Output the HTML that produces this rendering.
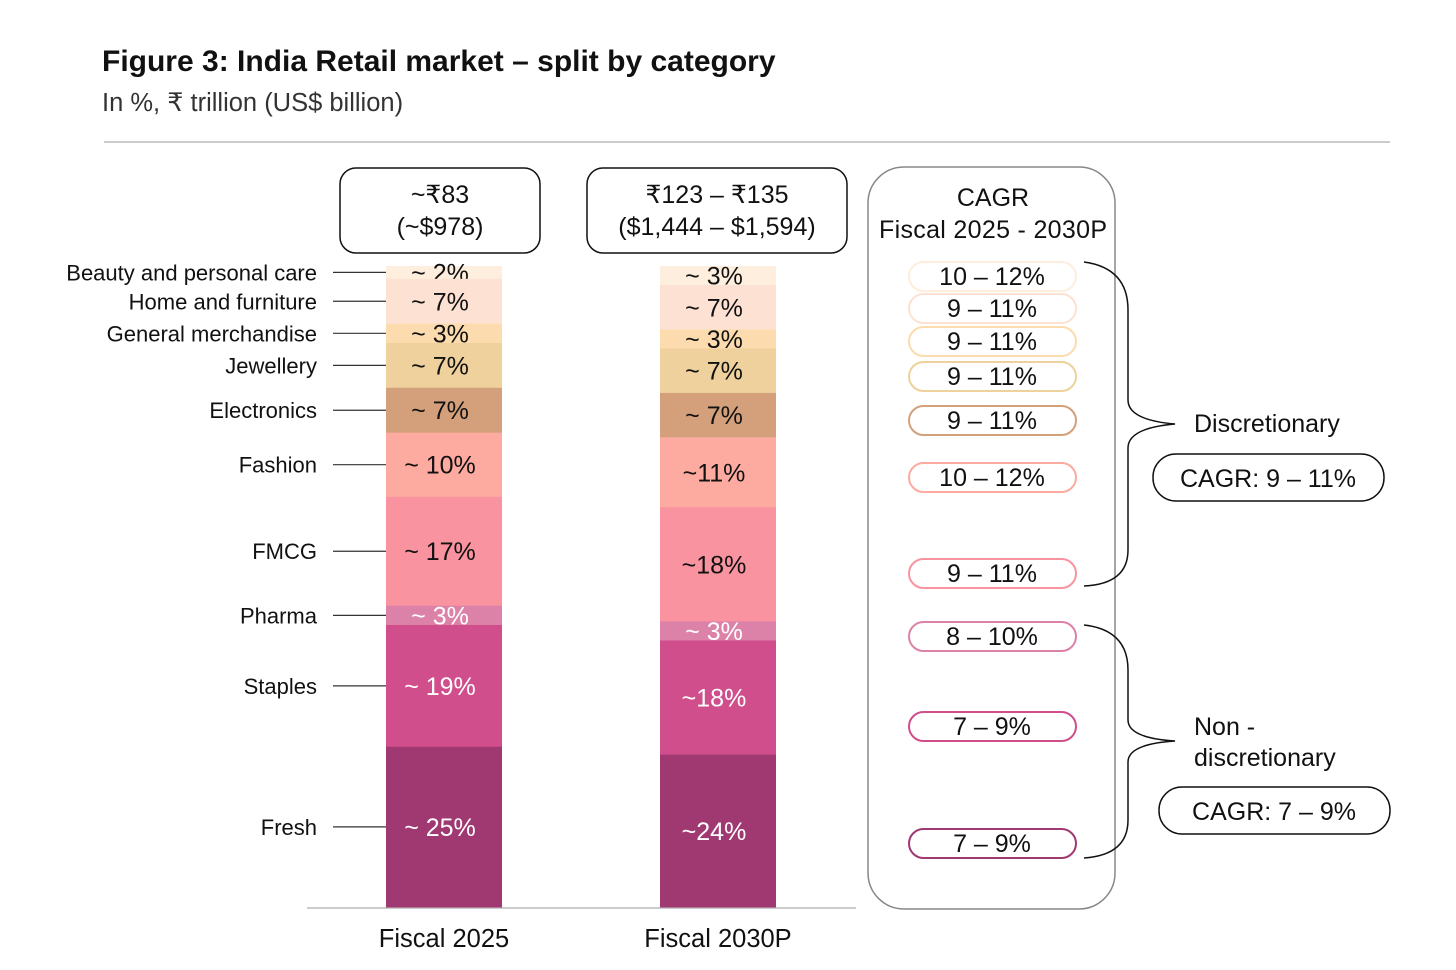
<!DOCTYPE html>
<html><head><meta charset="utf-8"><style>
body{margin:0;background:#fff;width:1456px;height:965px;overflow:hidden;font-family:"Liberation Sans",Arial,sans-serif}
svg text{font-family:"Liberation Sans",Arial,sans-serif}
</style></head><body>
<svg id="chart" width="1456" height="965" viewBox="0 0 1456 965" xmlns="http://www.w3.org/2000/svg">
<text x="102" y="71" font-size="30" font-weight="bold" fill="#111">Figure 3: India Retail market – split by category</text>
<text x="102" y="111" font-size="25.5" fill="#333">In %, ₹ trillion (US$ billion)</text>
<line x1="104" y1="142" x2="1390" y2="142" stroke="#ccc" stroke-width="2"/>
<line x1="307" y1="908" x2="856" y2="908" stroke="#bbb" stroke-width="1.5"/>

<rect x="340" y="168" width="200" height="85" rx="16" fill="#fff" stroke="#111" stroke-width="1.5"/>
<text x="440" y="203" font-size="25" text-anchor="middle" fill="#111">~₹83</text>
<text x="440" y="235" font-size="25" text-anchor="middle" fill="#111">(~$978)</text>
<rect x="587" y="168" width="260" height="85" rx="16" fill="#fff" stroke="#111" stroke-width="1.5"/>
<text x="717" y="203" font-size="25" text-anchor="middle" fill="#111">₹123 – ₹135</text>
<text x="717" y="235" font-size="25" text-anchor="middle" fill="#111">($1,444 – $1,594)</text>

<rect x="868" y="167" width="247" height="742" rx="36" fill="#fff" stroke="#888" stroke-width="1.5"/>
<text x="993" y="206" font-size="25" text-anchor="middle" fill="#111">CAGR</text>
<text x="993" y="238" font-size="25" text-anchor="middle" fill="#111" textLength="228">Fiscal 2025 - 2030P</text>

<path d="M1084,262 Q1128,268 1128,310 L1128,400 Q1128,420 1175,424 Q1128,428 1128,448 L1128,550 Q1128,584 1084,586" fill="none" stroke="#111" stroke-width="1.5"/>
<text x="1194" y="432" font-size="25" fill="#111">Discretionary</text>
<rect x="1153" y="454" width="231" height="47" rx="23" fill="#fff" stroke="#111" stroke-width="1.5"/>
<text x="1268" y="487" font-size="25" text-anchor="middle" fill="#111">CAGR: 9 – 11%</text>

<path d="M1084,625 Q1128,630 1128,670 L1128,720 Q1128,738 1175,741 Q1128,744 1128,762 L1128,820 Q1128,855 1084,858" fill="none" stroke="#111" stroke-width="1.5"/>
<text x="1194" y="735" font-size="25" fill="#111">Non -</text>
<text x="1194" y="766" font-size="25" fill="#111">discretionary</text>
<rect x="1159" y="787" width="231" height="47" rx="23" fill="#fff" stroke="#111" stroke-width="1.5"/>
<text x="1274" y="820" font-size="25" text-anchor="middle" fill="#111">CAGR: 7 – 9%</text>

<text x="444" y="947" font-size="25.5" text-anchor="middle" fill="#111">Fiscal 2025</text>
<text x="718" y="947" font-size="25.5" text-anchor="middle" fill="#111">Fiscal 2030P</text>
<g id="marks"></g>
</svg>
<script>
const categories=["Beauty and personal care","Home and furniture","General merchandise","Jewellery","Electronics","Fashion","FMCG","Pharma","Staples","Fresh"];
const values2025=[2,7,3,7,7,10,17,3,19,25];
const values2030=[3,7,3,7,7,11,18,3,18,24];
const labels2025=["~ 2%","~ 7%","~ 3%","~ 7%","~ 7%","~ 10%","~ 17%","~ 3%","~ 19%","~ 25%"];
const labels2030=["~ 3%","~ 7%","~ 3%","~ 7%","~ 7%","~11%","~18%","~ 3%","~18%","~24%"];
const cagrLabels=["10 – 12%","9 – 11%","9 – 11%","9 – 11%","9 – 11%","10 – 12%","9 – 11%","8 – 10%","7 – 9%","7 – 9%"];
const colors=["#fdeedd","#fde2d3","#fcdcae","#eed19c","#d4a07c","#fdaaa0","#f9939f","#dc82a8","#d04e8b","#a03872"];
const cagrY=[276,308,341,376,420,477,573,636,726,843];
(function(){
const NS="http://www.w3.org/2000/svg";
const g=document.getElementById('marks');
const yTop=266,yBottom=907;
function el(t,a){const e=document.createElementNS(NS,t);for(const k in a)e.setAttribute(k,a[k]);g.appendChild(e);return e;}
function drawBar(vals,labs,x,w,key,withCats){
  const sum=vals.reduce((a,b)=>a+b,0);
  const sc=(yBottom-yTop)/sum;
  let y=yTop;
  vals.forEach((v,i)=>{
    const h=v*sc;
    const r=el('rect',{x:x,y:y,width:w,height:h+0.5,fill:colors[i]});
    
    
    const mid=y+h/2;
    const t=el('text',{x:x+w/2-4,y:mid+9,'font-size':25,'text-anchor':'middle',fill:i>=7?'#fff':'#111'});
    t.textContent=labs[i];
    
    
    if(withCats){
      const c=el('text',{x:317,y:mid+8,'font-size':22,'text-anchor':'end',fill:'#111'});
      c.textContent=categories[i];
      
      
      const l=el('line',{x1:333,y1:mid,x2:386,y2:mid,stroke:'#333','stroke-width':1.2});
      
      
    }
    y+=h;
  });
}
drawBar(values2025,labels2025,386,116,'2025',true);
drawBar(values2030,labels2030,660,116,'2030',false);
cagrLabels.forEach((s,i)=>{
  const r=el('rect',{x:909,y:cagrY[i]-14,width:167,height:29,rx:14.5,fill:'#fff',stroke:colors[i],'stroke-width':2});
  
  
  const t=el('text',{x:992,y:cagrY[i]+9,'font-size':25,'text-anchor':'middle',fill:'#111'});
  t.textContent=s;
  
  
});
})();
</script>
</body></html>
